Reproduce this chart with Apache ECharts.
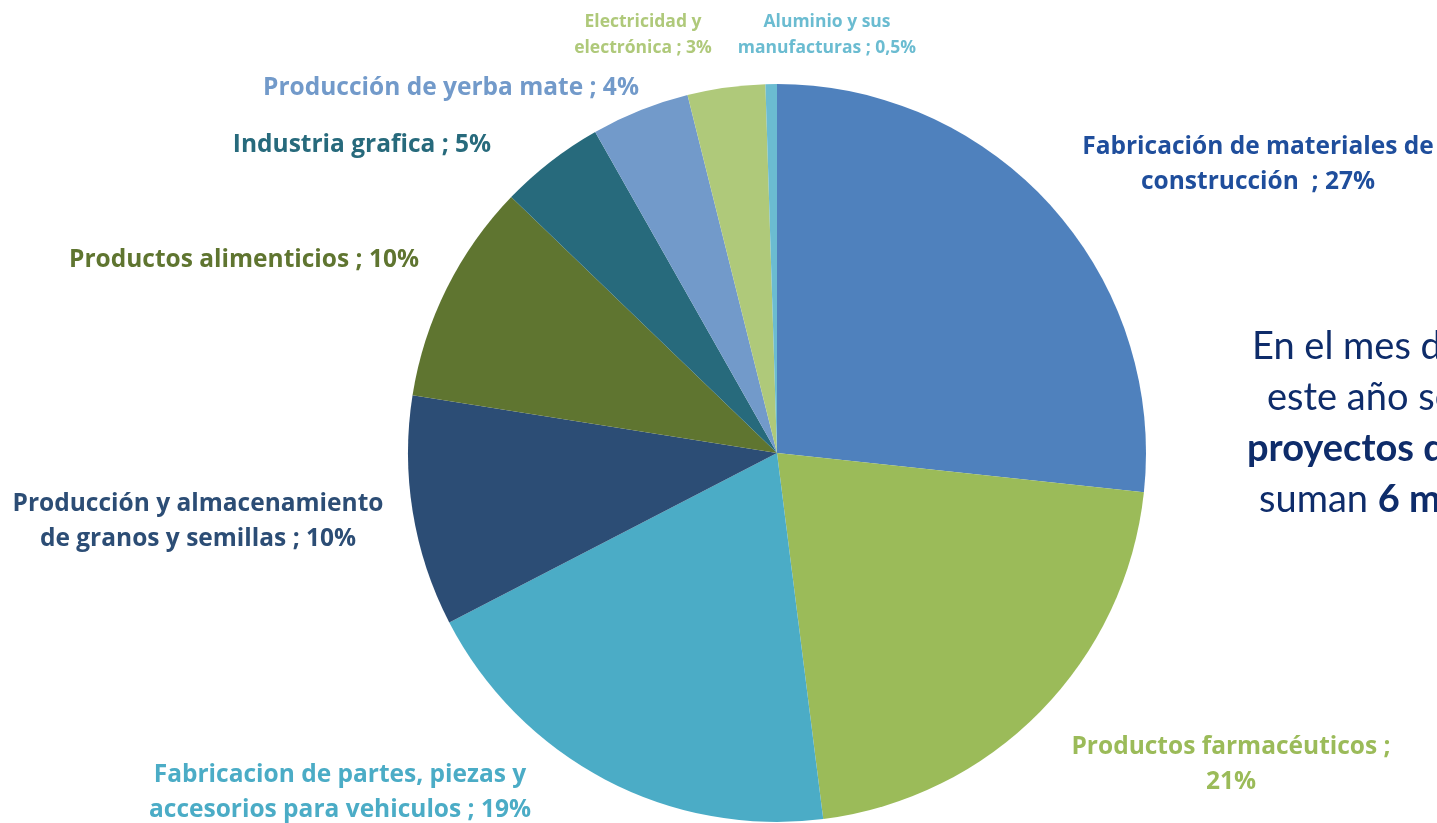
<!DOCTYPE html>
<html>
<head>
<meta charset="utf-8">
<style>
  html, body { margin: 0; padding: 0; background: #ffffff; }
  #chart { width: 1437px; height: 823px; }
</style>
<script src="https://cdn.jsdelivr.net/npm/echarts@6/dist/echarts.min.js"></script>
</head>
<body>
<div id="chart"></div>
<script>
// ---- data ----
const categories = [
  'Fabricación de materiales de\nconstrucción  ; 27%',
  'Productos farmacéuticos ;\n21%',
  'Fabricacion de partes, piezas y\naccesorios para vehiculos ; 19%',
  'Producción y almacenamiento\nde granos y semillas ; 10%',
  'Productos alimenticios ; 10%',
  'Industria grafica ; 5%',
  'Producción de yerba mate ; 4%',
  'Electricidad y\nelectrónica ; 3%',
  'Aluminio y sus\nmanufacturas ; 0,5%'
];
const shares = [26.7, 21.3, 19.4, 10.1, 9.7, 4.6, 4.3, 3.4, 0.5];
const sliceColors = ['#4F81BD', '#9BBB59', '#4BACC6', '#2C4D75', '#5F7530', '#276A7C', '#729ACA', '#AFC97A', '#6BBCD1'];
const labelColors = ['#1F4E9C', '#9BBB59', '#4BACC6', '#2C4D75', '#5F7530', '#276A7C', '#729ACA', '#AFC97A', '#6BBCD1'];
const noteLines = ['En el mes de', 'este año se', '{b|proyectos de}', 'suman {b|6 millones}'];

// label placements (center x, center y, font size)
const labelPos = [
  [1258, 165, 24.5], [1231, 765, 24.5], [340, 793, 24.5], [198, 522, 24.5],
  [244, 260, 24.5], [362, 145, 24.5], [451, 88, 24.5], [643, 35, 17.5], [827, 35, 17.5]
];

const chart = echarts.init(document.getElementById('chart'), null, { renderer: 'canvas' });

const data = categories.map((name, i) => ({
  name: name,
  value: shares[i],
  itemStyle: { color: sliceColors[i] },
  label: {
    color: labelColors[i],
    fontSize: labelPos[i][2],
    lineHeight: labelPos[i][2] < 20 ? 26 : 35
  }
}));

const noteX = [1252, 1267, 1247, 1259];
const noteY = [350, 401, 452, 503];

chart.setOption({
  animation: false,
  backgroundColor: '#ffffff',
  series: [{
    type: 'pie',
    center: [777, 453],
    radius: 369,
    startAngle: 90,
    clockwise: true,
    avoidLabelOverlap: false,
    itemStyle: { borderWidth: 0 },
    label: {
      show: true,
      position: 'outside',
      formatter: '{b}',
      fontFamily: 'Open Sans',
      fontWeight: 'bold',
      align: 'center'
    },
    labelLine: { show: false },
    labelLayout: function (params) {
      const p = labelPos[params.dataIndex];
      return { x: p[0], y: p[1], align: 'center', verticalAlign: 'middle' };
    },
    data: data
  }],
  graphic: noteLines.map((t, i) => ({
    type: 'text',
    left: noteX[i],
    top: noteY[i] - 22,
    style: {
      text: t,
      fontFamily: 'Lato',
      fontSize: 38,
      fill: '#0E2C6A',
      rich: {
        b: { fontFamily: 'Lato', fontSize: 38, fontWeight: 'bold', fill: '#0E2C6A' }
      }
    }
  }))
});
</script>
</body>
</html>
